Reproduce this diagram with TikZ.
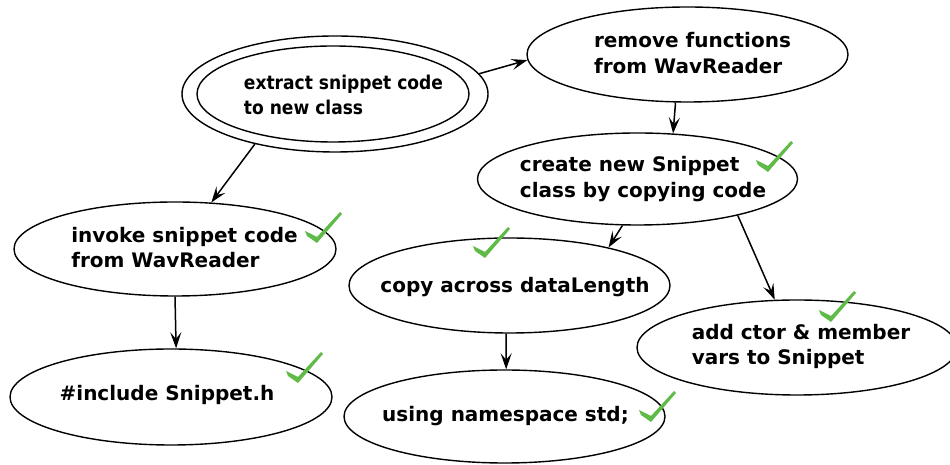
\documentclass[tikz,border=0pt]{standalone}
\usepackage{fontspec}
\setmainfont{DejaVu Sans}
\newfontfamily\condfont{DejaVu Sans Condensed}
\usetikzlibrary{shapes.geometric,arrows.meta}
\definecolor{chkgreen}{RGB}{96,186,72}
\tikzset{
  oval/.style={ellipse, draw, line width=1.4pt, inner sep=0pt},
  lbl/.style={font=\fontsize{20}{25.5}\selectfont\bfseries, align=left, inner sep=0pt},
  conn/.style={line width=1.5pt, -{Stealth[length=16pt,width=11pt,inset=6.5pt]}},
}
\newcommand\chkmark[1]{%
  \fill[chkgreen, shift={(#1)}] (-1,2) -- (11,-4) -- (34,21) -- (36,19) -- (11,-10) -- (1,-3) -- cycle;}
\begin{document}
\begin{tikzpicture}[x=1pt,y=1pt]
\useasboundingbox (0,0) rectangle (950,465);
% nodes (y = 465 - image y)
\node[oval, minimum width=306, minimum height=116] (ext) at (335,371) {};
\node[oval, minimum width=272, minimum height=96] (extin) at (333,371) {};
\node[lbl, font=\fontsize{19}{25}\condfont\bfseries] (extT) at (343.5,370.5) {extract snippet code\\to new class};

\node[oval, minimum width=321, minimum height=95,
  label={[lbl, xshift=5pt, yshift=1.5pt]center:remove functions\\from WavReader}] (rem) at (687.5,410.5) {};
\node[oval, minimum width=320, minimum height=92,
  label={[lbl, xshift=5.5pt]center:create new Snippet\\class by copying code}] (cre) at (637.5,286) {};
\node[oval, minimum width=322, minimum height=94,
  label={[lbl, xshift=9.5pt, yshift=1.5pt]center:invoke snippet code\\from WavReader}] (inv) at (175,216) {};
\node[oval, minimum width=322, minimum height=96,
  label={[lbl, xshift=-4pt, yshift=2pt]center:\#include Snippet.h}] (inc) at (171,68) {};
\node[oval, minimum width=321, minimum height=95,
  label={[lbl, xshift=5.5pt, yshift=-1.5pt]center:copy across dataLength}] (cpy) at (509.5,179.5) {};
\node[oval, minimum width=321, minimum height=93,
  label={[lbl, xshift=1pt]center:using namespace std;}] (usg) at (504.5,48.5) {};
\node[oval, minimum width=320, minimum height=95,
  label={[lbl, xshift=4pt, yshift=1pt]center:add ctor \& member\\vars to Snippet}] (add) at (797,117.5) {};

% connectors
\draw[conn] (ext.8.7) -- (rem.182.3);
\draw[conn] (ext.212) -- (inv.52);
\draw[conn] (rem.256.4) -- (cre.52.3);
\draw[conn] (cre.252) -- (cpy.21);
\draw[conn] (cre.340.5) -- (add.115.8);
\draw[conn] (inv.270) -- (inc.84);
\draw[conn] (cpy.266) -- (usg.88);

% check marks
\chkmark{757,303}
\chkmark{306,232}
\chkmark{287,92}
\chkmark{474,217}
\chkmark{640,53}
\chkmark{820,153}
\end{tikzpicture}
\end{document}
